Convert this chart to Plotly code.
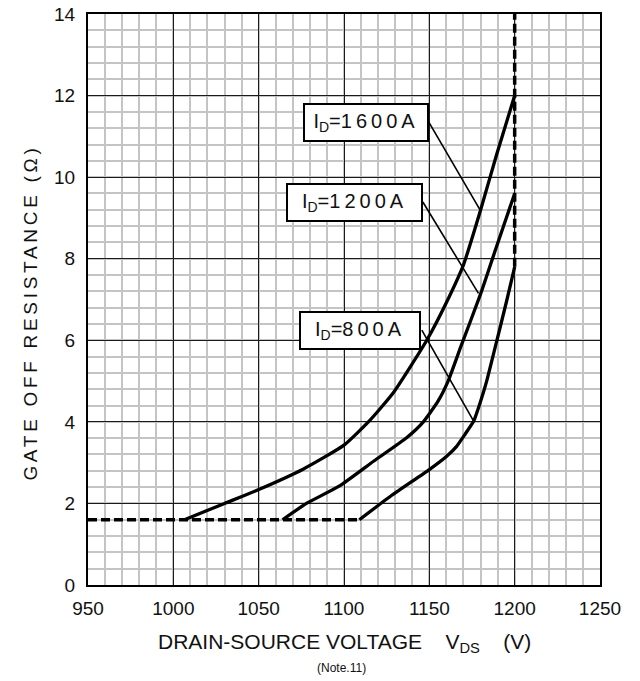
import plotly.graph_objects as go

# ---- data ----
vds_1600 = [1006.5, 1030, 1050, 1076, 1100, 1115, 1129, 1148.5, 1162, 1170, 1180, 1189.4, 1200]
rg_1600 = [1.6, 2.0, 2.34, 2.84, 3.43, 4.03, 4.72, 6.0, 7.1, 7.85, 9.19, 10.55, 12.0]

vds_1200 = [1064, 1078, 1097.4, 1117.5, 1136.7, 1146.5, 1155, 1161, 1168.5, 1180, 1188.6, 1200]
rg_1200 = [1.6, 2.0, 2.43, 3.04, 3.61, 4.0, 4.5, 5.0, 5.85, 7.13, 8.2, 9.6]

vds_800 = [1109, 1128, 1150, 1160, 1166, 1171, 1176, 1180, 1183.6, 1189.6, 1195.5, 1200]
rg_800 = [1.6, 2.2, 2.83, 3.15, 3.4, 3.7, 4.02, 4.5, 5.0, 6.0, 7.0, 7.8]

limit_h_x = [950, 1109]
limit_h_y = [1.6, 1.6]
limit_v_x = [1200, 1200]
limit_v_y = [7.8, 14]

labels = ["1600A", "1200A", "800A"]
label_x = [1112.6, 1105.9, 1109.5]
label_y = [11.34, 9.38, 6.23]
label_w = [126, 137, 122]
leader_x = [[1149.7, 1179.8], [1146.2, 1178.8], [1145.6, 1175.8]]
leader_y = [[11.35, 9.19], [9.39, 7.15], [6.25, 4.03]]

x_ticks = [950, 1000, 1050, 1100, 1150, 1200, 1250]
y_ticks = [0, 2, 4, 6, 8, 10, 12, 14]

FONT = "Liberation Sans, Arial, sans-serif"

fig = go.Figure()

for xs, ys in [(limit_h_x, limit_h_y), (limit_v_x, limit_v_y)]:
    fig.add_trace(go.Scatter(x=xs, y=ys, mode="lines",
                             line=dict(color="black", width=3.5, dash="9px,4px"),
                             hoverinfo="skip", showlegend=False))

for xs, ys in [(vds_1600, rg_1600), (vds_1200, rg_1200), (vds_800, rg_800)]:
    fig.add_trace(go.Scatter(x=xs, y=ys, mode="lines",
                             line=dict(color="black", width=3.3, shape="spline", smoothing=0.5),
                             showlegend=False))

for lx, ly in zip(leader_x, leader_y):
    fig.add_trace(go.Scatter(x=lx, y=ly, mode="lines",
                             line=dict(color="black", width=1.6),
                             hoverinfo="skip", showlegend=False))

for lab, xc, yc, w in zip(labels, label_x, label_y, label_w):
    fig.add_annotation(
        x=xc, y=yc, xref="x", yref="y", showarrow=False,
        text='I<sub>D</sub>=<span style="letter-spacing:4px">' + lab + '</span>',
        font=dict(family=FONT, size=20, color="#111"),
        bgcolor="white", bordercolor="black", borderwidth=2,
        width=w - 6, height=33, borderpad=1, align="center", valign="middle")

# axis titles
fig.add_annotation(
    x=0.5, y=-0.1015, xref="paper", yref="paper", showarrow=False,
    text="DRAIN-SOURCE VOLTAGE\u00a0\u00a0\u00a0\u00a0V<sub>DS</sub>\u00a0\u00a0\u00a0\u00a0(V)",
    font=dict(family=FONT, size=21, color="#111"), xanchor="center", yanchor="middle")
fig.add_annotation(
    x=0.495, y=-0.146, xref="paper", yref="paper", showarrow=False,
    text="(Note.11)", font=dict(family=FONT, size=12, color="#111"),
    xanchor="center", yanchor="middle")
fig.add_annotation(
    x=-0.1116, y=0.4768, xref="paper", yref="paper", showarrow=False, textangle=-90,
    text='<span style="letter-spacing:3.7px">GATE OFF RESISTANCE (Ω)</span>',
    font=dict(family=FONT, size=19, color="#111"), xanchor="center", yanchor="middle")

axis_common = dict(
    showgrid=True, gridcolor="#1a1a1a", gridwidth=1,
    showline=True, linecolor="black", linewidth=2, mirror=True,
    zeroline=False, ticks="", automargin=False, ticklabeloverflow="allow",
    tickfont=dict(family=FONT, size=19, color="#111"),
)
fig.update_xaxes(range=[950, 1250], tickvals=x_ticks, ticktext=[str(v) for v in x_ticks],
                 minor=dict(dtick=10, tick0=950, showgrid=True, gridcolor="#c4c4c4", gridwidth=1.5),
                 ticklabelstandoff=5, **axis_common)
fig.update_yaxes(range=[0, 14], tickvals=y_ticks, ticktext=[str(v) for v in y_ticks],
                 minor=dict(dtick=0.4, tick0=0, showgrid=True, gridcolor="#c4c4c4", gridwidth=1.5),
                 ticklabelstandoff=7, **axis_common)

fig.update_layout(
    width=640, height=681,
    margin=dict(l=88, r=40, t=14, b=96),
    paper_bgcolor="white", plot_bgcolor="white",
    showlegend=False,
)

# remove the browser's default 8px body margin so the figure sits at the page corner
fig.write_html("out.html", config={"displayModeBar": False},
               post_script="document.body.style.margin='0';")
